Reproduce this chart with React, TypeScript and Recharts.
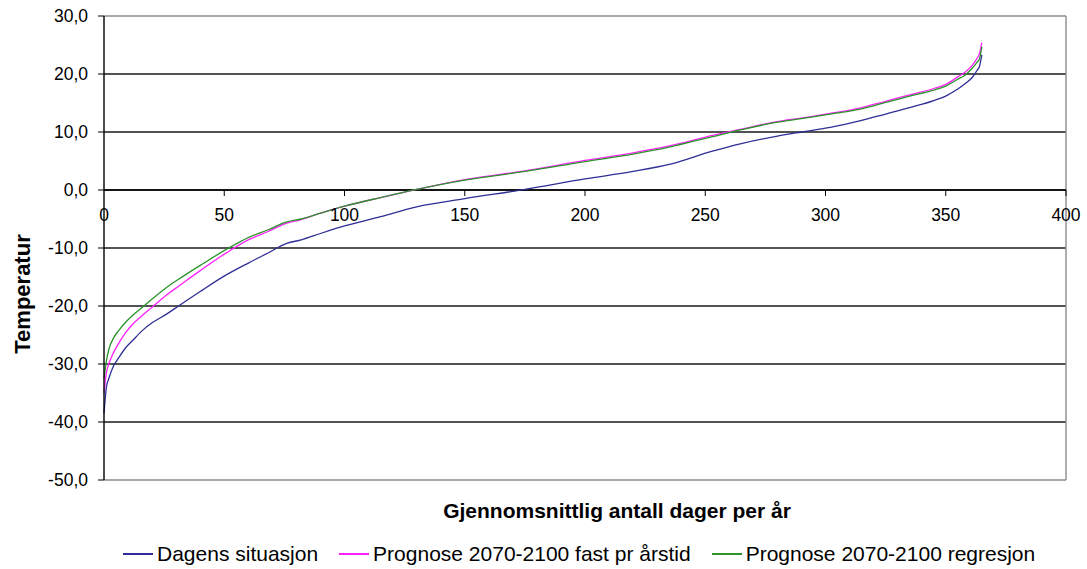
import React from "react";
import {
  LineChart,
  Line,
  XAxis,
  YAxis,
  CartesianGrid,
  ReferenceLine,
  Label,
} from "recharts";

const days = [
  0, 1, 2, 4, 6, 9, 12, 16, 20, 26, 31, 40, 51, 60, 68, 76, 82, 90, 100, 115,
  130, 150, 175, 200, 220, 235, 253, 265, 280, 290, 302, 315, 325, 335, 345,
  350, 355, 358, 361, 363, 364, 365,
];

const dagens = [
  -38.5, -34, -32.5, -30.3, -29, -27.2, -25.9, -24.2, -22.9, -21.4, -20, -17.5,
  -14.6, -12.6, -10.9, -9.2, -8.6, -7.5, -6.2, -4.6, -2.9, -1.5, 0.1, 1.9, 3.2,
  4.4, 6.7, 8.0, 9.3, 10.0, 10.8, 12.0, 13.1, 14.2, 15.4, 16.2, 17.4, 18.3,
  19.4, 20.6, 21.3, 23.3,
];

const fastPrArstid = [
  -35, -31.5, -30, -28, -26.5, -24.6, -23.1, -21.6, -20.2, -18.1, -16.6, -13.9,
  -10.8, -8.6, -7.2, -5.7, -5.1, -4.0, -2.8, -1.3, 0.1, 1.8, 3.3, 5.1, 6.4, 7.6,
  9.4, 10.5, 11.8, 12.4, 13.2, 14.2, 15.3, 16.4, 17.5, 18.2, 19.5, 20.3, 21.5,
  22.7, 23.5, 25.4,
];

const regresjon = [
  -32.5, -29.5, -27.5, -25.5, -24.3, -22.8, -21.6, -20.2, -18.8, -16.8, -15.4,
  -13, -10.2, -8.2, -6.9, -5.5, -5.0, -4.0, -2.8, -1.3, 0.1, 1.7, 3.2, 4.9, 6.2,
  7.4, 9.2, 10.4, 11.7, 12.3, 13.1, 14.0, 15.1, 16.2, 17.2, 17.9, 19.1, 19.8,
  21.0, 22.0, 22.6, 24.7,
];

const xTicks = [0, 50, 100, 150, 200, 250, 300, 350, 400];
const yTicks = [-50, -40, -30, -20, -10, 0, 10, 20, 30];
const gridValues = [-40, -30, -20, -10, 0, 10, 20];

const series = [
  { key: "dagens", name: "Dagens situasjon", color: "#2e2e96" },
  { key: "fast", name: "Prognose 2070-2100 fast pr årstid", color: "#ff22ff" },
  { key: "regresjon", name: "Prognose 2070-2100 regresjon", color: "#2a932a" },
];

const data = days.map((d, i) => ({
  day: d,
  dagens: dagens[i],
  fast: fastPrArstid[i],
  regresjon: regresjon[i],
}));

const FONT = '"Liberation Sans", Arial, sans-serif';
const TOP = 16;
const PLOT_H = 464;
// y pixel of the 0-line, where the x axis sits
const Y0 = TOP + PLOT_H * (30 / 80);

const XTick = (props: any) => {
  const { x, payload } = props;
  return (
    <g>
      {payload.value !== 0 && (
        <line x1={x} y1={Y0} x2={x} y2={Y0 + 6} stroke="#000" />
      )}
      <text
        x={x}
        y={Y0 + 31}
        textAnchor="middle"
        fontSize={17.5}
        fontFamily={FONT}
        fill="#000"
      >
        {payload.value}
      </text>
    </g>
  );
};

const ChartLegend = () => (
  <div
    style={{
      position: "absolute",
      left: 123,
      top: 542,
      display: "flex",
      fontFamily: FONT,
      fontSize: 21,
      color: "#000",
      alignItems: "center",
      whiteSpace: "nowrap",
    }}
  >
    {series.map((s) => (
      <div
        key={s.key}
        style={{ display: "flex", alignItems: "center", marginRight: 21 }}
      >
        <span
          style={{
            display: "inline-block",
            width: 30,
            height: 2,
            background: s.color,
            marginRight: 4,
          }}
        />
        <span>{s.name}</span>
      </div>
    ))}
  </div>
);

export default function App() {
  return (
    <div
      style={{
        position: "absolute",
        left: 0,
        top: 0,
        width: 1087,
        height: 569,
        background: "#fff",
      }}
    >
      <LineChart
        width={1087}
        height={569}
        data={data}
        margin={{ top: TOP, right: 21, bottom: 88, left: 0 }}
      >
        <CartesianGrid
          horizontal
          vertical={false}
          horizontalValues={gridValues}
          stroke="#1a1a1a"
          strokeWidth={1.4}
        />
        <ReferenceLine y={30} stroke="#8c8c8c" strokeWidth={1.4} />
        <ReferenceLine y={-50} stroke="#8c8c8c" strokeWidth={1.4} />
        <ReferenceLine x={400} stroke="#8c8c8c" strokeWidth={1.4} />
        <ReferenceLine y={0} stroke="#000" strokeWidth={1.4} />
        <XAxis
          dataKey="day"
          type="number"
          domain={[0, 400]}
          ticks={xTicks}
          height={1}
          axisLine={false}
          tickLine={false}
          tick={XTick}
          interval={0}
        >
          <Label
            content={() => (
              <text
                x={617}
                y={518}
                textAnchor="middle"
                fontSize={21}
                fontWeight="bold"
                fontFamily={FONT}
                fill="#000"
              >
                Gjennomsnittlig antall dager per år
              </text>
            )}
          />
        </XAxis>
        <YAxis
          type="number"
          domain={[-50, 30]}
          ticks={yTicks}
          width={104}
          interval={0}
          tickSize={6}
          tickMargin={10}
          axisLine={{ stroke: "#000", strokeWidth: 1.4 }}
          tickLine={{ stroke: "#000" }}
          tick={{ fill: "#000", fontSize: 17.5, fontFamily: FONT }}
          tickFormatter={(v: number) => v.toFixed(1).replace(".", ",")}
        >
          <Label
            content={() => (
              <text
                x={30}
                y={294}
                transform="rotate(-90 30 294)"
                textAnchor="middle"
                fontSize={22}
                fontWeight="bold"
                fontFamily={FONT}
                fill="#000"
              >
                Temperatur
              </text>
            )}
          />
        </YAxis>
        {series.map((s) => (
          <Line
            key={s.key}
            type="monotone"
            dataKey={s.key}
            name={s.name}
            stroke={s.color}
            strokeWidth={1.3}
            dot={false}
            isAnimationActive={false}
          />
        ))}
      </LineChart>
      <ChartLegend />
    </div>
  );
}
